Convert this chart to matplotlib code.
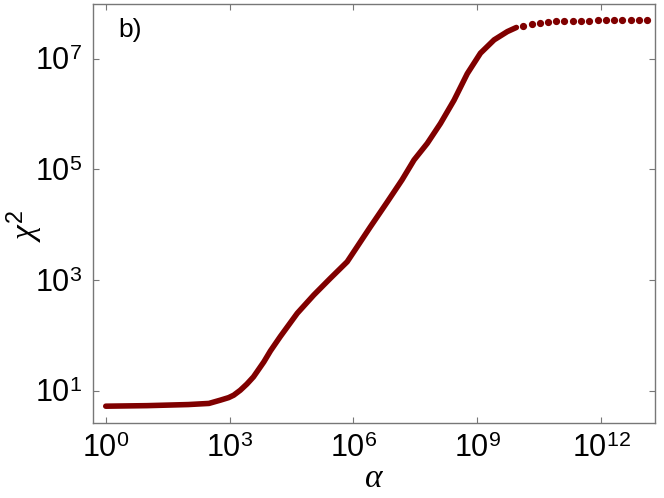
import matplotlib
matplotlib.use("Agg")
import matplotlib.pyplot as plt
from matplotlib.ticker import FixedLocator, FixedFormatter, NullLocator

plt.rcParams['font.family'] = ['Liberation Sans', 'DejaVu Sans']
plt.rcParams['mathtext.fontset'] = 'custom'
plt.rcParams['mathtext.rm'] = 'Liberation Sans'
plt.rcParams['mathtext.it'] = 'Liberation Serif:italic'

# dense part of the curve
alpha = [1e0, 1e1, 1e2, 3.16e2, 6.03e2, 9.5e2, 1.26e3, 1.82e3, 2.63e3, 3.8e3,
         6.76e3, 9.8e3, 1.7e4, 4.37e4, 1.1e5, 2.75e5, 7.08e5, 1.23e6, 2.57e6,
         6.61e6, 1.51e7, 2.95e7, 6.17e7, 1.29e8, 2.75e8, 5.75e8, 1.2e9,
         2.57e9, 5.37e9, 8.9e9]
chi2 = [5.25, 5.37, 5.62, 5.89, 6.76, 7.5, 8.3, 10.2, 13.2, 17.8,
        33.1, 52.5, 95.5, 251, 537, 1070, 2140, 3980, 9120,
        2.57e4, 6.46e4, 1.48e5, 2.95e5, 6.76e5, 1.78e6, 5.37e6, 1.26e7,
        2.19e7, 3.09e7, 3.67e7]

# sparse tail (individual dots)
alpha_tail = [1.3e10, 2.1e10, 3.3e10, 5.2e10, 8.3e10, 1.3e11, 2.1e11, 3.3e11,
              5.2e11, 8.3e11, 1.3e12, 2.1e12, 3.3e12, 5.2e12, 8.3e12, 1.3e13]
chi2_tail = [3.88e7, 4.17e7, 4.45e7, 4.58e7, 4.72e7, 4.79e7, 4.84e7, 4.86e7,
             4.9e7, 4.92e7, 4.92e7, 4.92e7, 4.92e7, 4.92e7, 4.92e7, 4.92e7]

xticks = [1e0, 1e3, 1e6, 1e9, 1e12]
xticklabels = ['$10^{0}$', '$10^{3}$', '$10^{6}$', '$10^{9}$', '$10^{12}$']
yticks = [1e1, 1e3, 1e5, 1e7]
yticklabels = ['$10^{1}$', '$10^{3}$', '$10^{5}$', '$10^{7}$']

red = '#800000'

fig = plt.figure(figsize=(6.64, 4.98), dpi=100)
ax = fig.add_axes([0.140, 0.151, 0.846, 0.841])

ax.plot(alpha, chi2, color=red, lw=4.0, solid_capstyle='round',
        solid_joinstyle='round')
ax.plot(alpha_tail, chi2_tail, 'o', color=red, ms=4.2, mec=red)

ax.set_xscale('log')
ax.set_yscale('log')
ax.set_xlim(0.49, 2.0e13)
ax.set_ylim(2.63, 9.75e7)

ax.xaxis.set_major_locator(FixedLocator(xticks))
ax.xaxis.set_major_formatter(FixedFormatter(xticklabels))
ax.yaxis.set_major_locator(FixedLocator(yticks))
ax.yaxis.set_major_formatter(FixedFormatter(yticklabels))
ax.xaxis.set_minor_locator(NullLocator())
ax.yaxis.set_minor_locator(NullLocator())

gray = '#777777'
for s in ax.spines.values():
    s.set_color(gray)
    s.set_linewidth(1.0)
ax.tick_params(which='both', direction='in', top=True, right=True,
               length=4, width=0.8, color=gray, labelsize=22, pad=8)

ax.set_xlabel(r'$\alpha$', fontsize=24)
ax.xaxis.set_label_coords(0.5, -0.095)
ax.set_ylabel(r'$\chi^{2}$', fontsize=24)
ax.yaxis.set_label_coords(-0.085, 0.47)
ax.text(0.0445, 0.921, 'b)', transform=ax.transAxes, fontsize=19,
        va='baseline')

fig.savefig('out.png', dpi=100)
